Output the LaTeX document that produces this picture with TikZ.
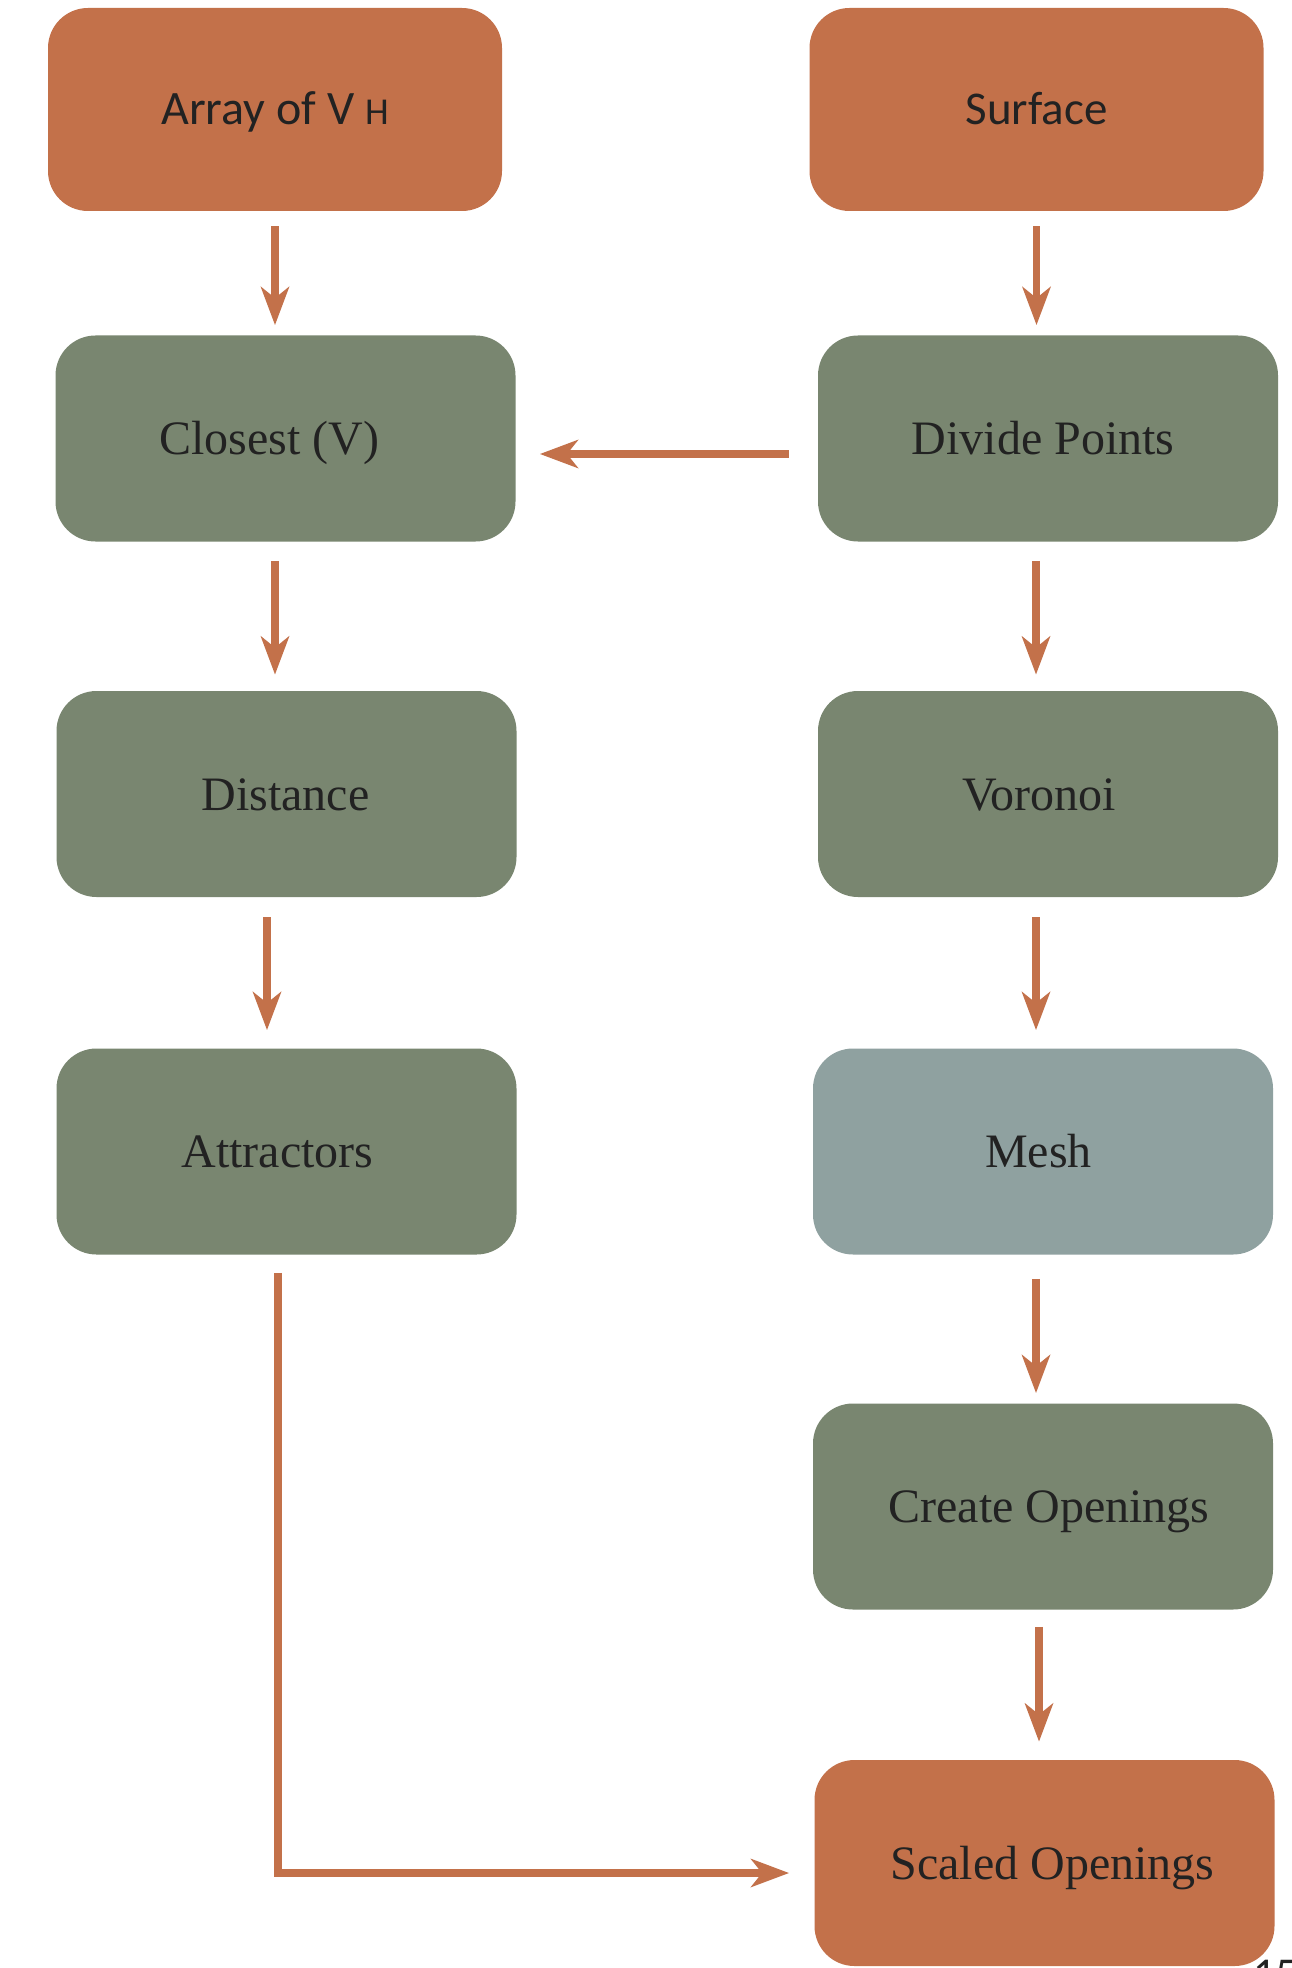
\documentclass[tikz,border=0pt]{standalone}
\usepackage{fontspec}
\setmainfont{Liberation Serif}
\newfontfamily\labelsans{Carlito}
\usetikzlibrary{arrows.meta}

\definecolor{rust}{HTML}{C3714A}
\definecolor{sage}{HTML}{798670}
\definecolor{slate}{HTML}{8FA1A0}
\definecolor{ink}{HTML}{222222}

\begin{document}
\begin{tikzpicture}[
  x=0.5pt, y=-0.5pt,
  box/.style={rounded corners=20pt, minimum width=230pt, minimum height=103pt,
    inner sep=0pt, draw=none},
  startbox/.style={box, fill=rust, minimum width=227pt, minimum height=101.5pt},
  procbox/.style={box, fill=sage},
  meshbox/.style={box, fill=slate},
  endbox/.style={box, fill=rust},
  lbl/.style={inner sep=0pt, text=ink, text height=16pt, text depth=0pt,
    font=\fontsize{24}{28}\selectfont},
  sanslbl/.style={inner sep=0pt, text=ink, text height=15.5pt, text depth=0pt,
    font=\labelsans\fontsize{24}{28}\selectfont},
  flow/.style={draw=rust, line width=3.6pt,
    -{Stealth[length=19pt, width=14pt, inset=5.5pt]}},
]
% page
\fill[white] (0,0) rectangle (1291,1968);
\useasboundingbox (0,0) rectangle (1291,1968);

% inputs
\node[startbox, label={[sanslbl]center:Array of V {\fontsize{19}{20}\selectfont H}}]
  (array) at (275,109.5) {};
\node[startbox, label={[sanslbl, font=\labelsans\fontsize{23.5}{26}\selectfont]center:Surface}]
  (surface) at (1036.5,109.5) {};

% left column
\node[procbox, label={[lbl, xshift=-8pt]center:Closest (V)}] (closest) at (285.5,438.5) {};
\node[procbox, label={[lbl, xshift=-0.5pt]center:Distance}] (distance) at (286.5,794) {};
\node[procbox, label={[lbl, xshift=-4.5pt]center:Attractors}] (attractors) at (286.5,1151.5) {};

% right column
\node[procbox, label={[lbl, xshift=-2.5pt]center:Divide Points}] (divide) at (1048,438.5) {};
\node[procbox, label={[lbl, xshift=-4.5pt]center:Voronoi}] (voronoi) at (1048,794) {};
\node[meshbox, label={[lbl, xshift=-2.25pt]center:Mesh}] (mesh) at (1043,1151.5) {};
\node[procbox, label={[lbl, xshift=3pt]center:Create Openings}] (create) at (1043,1506.5) {};
\node[endbox, label={[lbl, xshift=4pt]center:Scaled Openings}] (scaled) at (1044.5,1863) {};

% page number, running off the lower edge of the page
\node[anchor=north west, inner sep=0pt, text=ink,
  font=\labelsans\fontsize{22}{22}\selectfont] (folio) at (1253,1960) {15};

% connectors
\draw[flow, shorten <=7.5pt, shorten >=5pt]
  (array.south) -- (array.south |- closest.north);
\draw[flow, shorten <=7.5pt, shorten >=5pt]
  (surface.south) -- (surface.south |- divide.north);
\draw[flow, shorten <=14.5pt, shorten >=12pt]
  ([yshift=-7.75pt]divide.west) -- ([yshift=-7.75pt]divide.west -| closest.east);
\draw[flow, shorten <=9.5pt, shorten >=8pt]
  ([xshift=-5.25pt]closest.south) -- ([xshift=-5.25pt]closest.south |- distance.north);
\draw[flow, shorten <=9.5pt, shorten >=8pt]
  ([xshift=-6pt]divide.south) -- ([xshift=-6pt]divide.south |- voronoi.north);
\draw[flow, shorten <=10pt, shorten >=9pt]
  ([xshift=-9.75pt]distance.south) -- ([xshift=-9.75pt]distance.south |- attractors.north);
\draw[flow, shorten <=10pt, shorten >=9pt]
  ([xshift=-6pt]voronoi.south) -- ([xshift=-6pt]voronoi.south |- mesh.north);
\draw[flow, shorten <=12pt, shorten >=5pt]
  ([xshift=-3.5pt]mesh.south) -- ([xshift=-3.5pt]mesh.south |- create.north);
\draw[flow, shorten <=8.5pt, shorten >=9pt]
  ([xshift=-2pt]create.south) -- ([xshift=-2pt]create.south |- scaled.north);
\draw[flow, shorten <=9pt, shorten >=12.5pt]
  ([xshift=-4.25pt]attractors.south) |- ([yshift=-5pt]scaled.west);
\end{tikzpicture}
\end{document}
